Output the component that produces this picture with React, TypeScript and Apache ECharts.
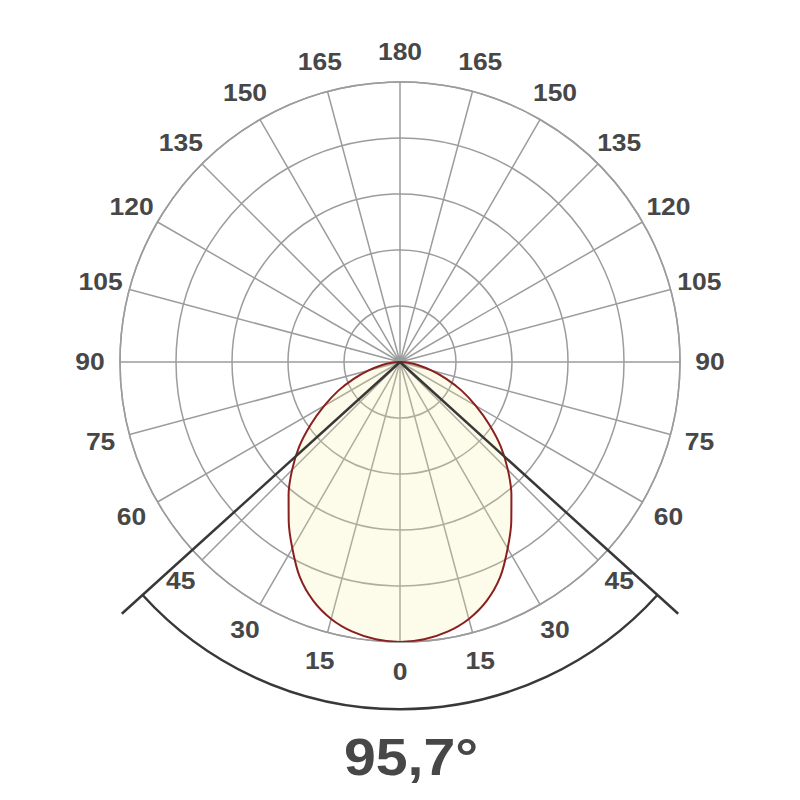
import React, { useEffect, useRef } from "react";
import * as echarts from "echarts";

// Angles measured from the downward axis (degrees) and relative intensity (% of max)
const angles = [0, 5, 10, 15, 20, 25, 30, 35, 40, 45, 50, 55, 60, 65, 70, 75, 80, 85, 90];
const intensity = [100, 99.4, 97.8, 95.0, 90.7, 84.7, 76.9, 69.3, 61.9, 54.5, 47.0, 38.9, 31.2, 24.4, 17.6, 11.6, 6.7, 3.0, 0];

// Angle tick labels (shown on both sides)
const tickLabels = [0, 15, 30, 45, 60, 75, 90, 105, 120, 135, 150, 165, 180];

const beamAngle = 95.7;
const beamLabel = "95,7°";

const gridColor = "#9c9c9c";
const textColor = "#474747";
const fontFamily = "'Liberation Sans', Arial, Helvetica, sans-serif";

export default function App() {
  const ref = useRef<HTMLDivElement>(null);

  useEffect(() => {
    if (!ref.current) return;
    const chart = echarts.init(ref.current, null, { renderer: "svg" });

    // build closed curve: right side (negative angles) then left side
    const curve: number[][] = [];
    for (let i = angles.length - 1; i >= 0; i--) curve.push([intensity[i], -angles[i]]);
    for (let i = 1; i < angles.length; i++) curve.push([intensity[i], angles[i]]);

    const labelReach = 110.7; // label centre radius in radius-axis units
    const labelData: number[][] = [];
    tickLabels.forEach((v) => {
      labelData.push([labelReach, v]);
      if (v !== 0 && v !== 180) labelData.push([labelReach, -v]);
    });

    const lineReach = 134; // beam line length in radius-axis units
    const arcReach = 124; // beam arc radius in radius-axis units

    chart.setOption({
      animation: false,
      backgroundColor: "#ffffff",
      polar: { center: [400, 362], radius: 280 },
      angleAxis: {
        type: "value",
        min: -180,
        max: 180,
        interval: 15,
        startAngle: 90,
        clockwise: true,
        axisLine: { show: true, lineStyle: { color: gridColor, width: 1.5 } },
        axisTick: { show: false },
        axisLabel: { show: false },
        splitLine: { show: true, lineStyle: { color: gridColor, width: 1.5 } },
      },
      radiusAxis: {
        type: "value",
        min: 0,
        max: 100,
        interval: 20,
        axisLine: { show: false },
        axisTick: { show: false },
        axisLabel: { show: false },
        splitLine: { show: true, lineStyle: { color: gridColor, width: 1.5 } },
      },
      graphic: [
        {
          type: "text",
          x: 411,
          y: 757,
          scaleX: 1.1,
          style: {
            text: beamLabel,
            fill: textColor,
            fontSize: 52,
            fontWeight: "bold",
            fontFamily,
            textAlign: "center",
            textVerticalAlign: "middle",
          },
        },
      ],
      series: [
        {
          type: "line",
          coordinateSystem: "polar",
          data: curve,
          symbol: "none",
          clip: false,
          smooth: 0.3,
          lineStyle: { color: "#8a1f1f", width: 2 },
          areaStyle: { color: "rgba(246, 234, 150, 0.3)" },
          z: 2,
        },
        {
          type: "custom",
          coordinateSystem: "polar",
          data: [[0, beamAngle / 2]],
          clip: false,
          z: 3,
          renderItem: (params: any, api: any) => {
            const half = api.value(1);
            const c = api.coord([0, 0]);
            const pR = api.coord([lineReach, -half]);
            const pL = api.coord([lineReach, half]);
            const aR = api.coord([arcReach, -half]);
            const aL = api.coord([arcReach, half]);
            const r = Math.hypot(aR[0] - c[0], aR[1] - c[1]);
            const a1 = Math.atan2(aR[1] - c[1], aR[0] - c[0]);
            const a2 = Math.atan2(aL[1] - c[1], aL[0] - c[0]);
            const st = { stroke: "#383838", lineWidth: 2.5, fill: null };
            return {
              type: "group",
              children: [
                { type: "line", shape: { x1: c[0], y1: c[1], x2: pR[0], y2: pR[1] }, style: st },
                { type: "line", shape: { x1: c[0], y1: c[1], x2: pL[0], y2: pL[1] }, style: st },
                {
                  type: "arc",
                  shape: { cx: c[0], cy: c[1], r, startAngle: a1, endAngle: a2, clockwise: true },
                  style: st,
                },
              ],
            };
          },
        },
        {
          type: "custom",
          coordinateSystem: "polar",
          data: labelData,
          clip: false,
          z: 4,
          renderItem: (params: any, api: any) => {
            const p = api.coord([api.value(0), api.value(1)]);
            return {
              type: "text",
              x: p[0],
              y: p[1],
              scaleX: 1.15,
              style: {
                text: String(Math.abs(api.value(1))),
                fill: textColor,
                fontSize: 23,
                fontWeight: "bold",
                fontFamily,
                align: "center",
                verticalAlign: "middle",
              },
            };
          },
        },
      ],
    });

    return () => chart.dispose();
  }, []);

  return (
    <div
      ref={ref}
      style={{ position: "absolute", left: 0, top: 0, width: 800, height: 800 }}
    />
  );
}
